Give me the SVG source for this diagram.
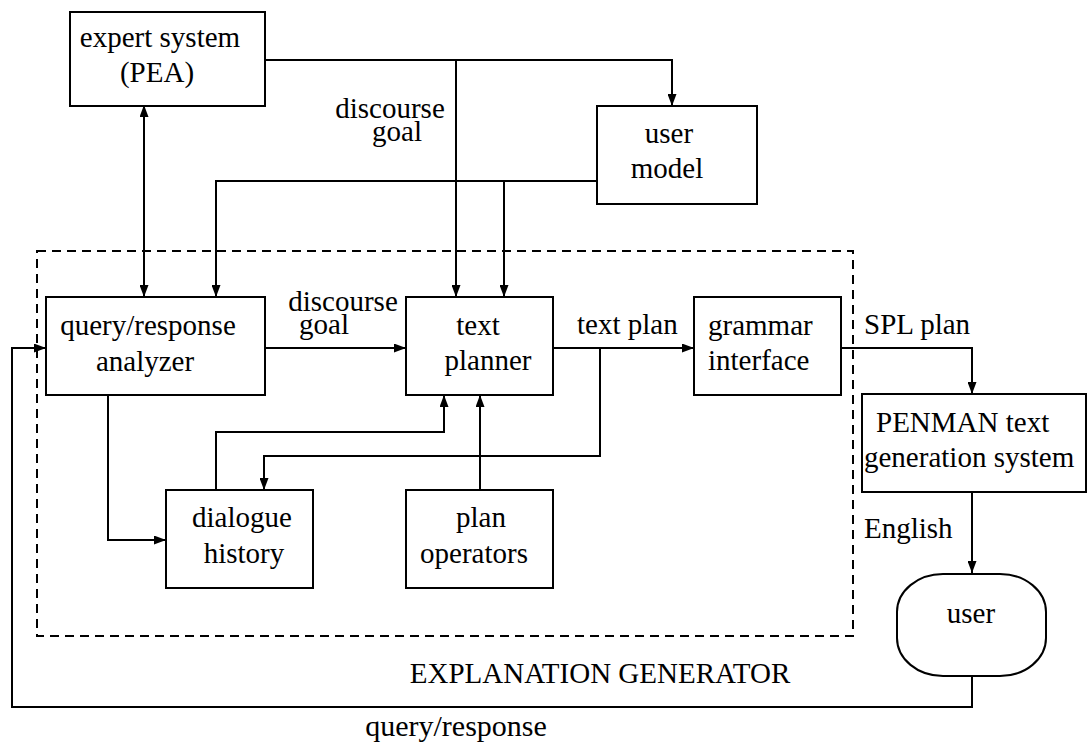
<svg xmlns="http://www.w3.org/2000/svg" width="1088" height="750" viewBox="0 0 1088 750">
  <style>
    .box { fill: #fff; stroke: #000; stroke-width: 2; }
    .frame { fill: none; stroke: #000; stroke-width: 2; stroke-dasharray: 9 6; }
    .wire { fill: none; stroke: #000; stroke-width: 2; marker-end: url(#arrow); }
    text { font-family: "Liberation Serif", "Times New Roman", serif; font-size: 29px; fill: #000; }
    .c { text-anchor: middle; }
  </style>
  <defs>
    <marker id="arrow" markerUnits="userSpaceOnUse" markerWidth="13" markerHeight="9" refX="12" refY="4.5" orient="auto-start-reverse">
      <path d="M0,0 L12,4.5 L0,9 z" fill="#000"/>
    </marker>
  </defs>

  <rect width="1088" height="750" fill="#fff"/>

  <!-- explanation generator boundary -->
  <g id="explanation-generator">
    <rect class="frame" x="37" y="251" width="816" height="385"/>
    <text class="c" x="600" y="683">EXPLANATION GENERATOR</text>
  </g>

  <!-- connectors -->
  <g id="connectors">
    <path class="wire" d="M265,60 H672 V106"/>
    <path class="wire" d="M456,60 V297"/>
    <path class="wire" d="M144,105 V297" marker-start="url(#arrow)"/>
    <path class="wire" d="M597,181 H216 V297"/>
    <path class="wire" d="M504,181 V297"/>
    <path class="wire" d="M265,348 H406"/>
    <path class="wire" d="M553,348 H694"/>
    <path class="wire" d="M600,348 V456 H264 V490"/>
    <path class="wire" d="M108,395 V540 H166"/>
    <path class="wire" d="M216,490 V432 H444 V395"/>
    <path class="wire" d="M480,490 V395"/>
    <path class="wire" d="M841,348 H972 V394"/>
    <path class="wire" d="M972,492 V573"/>
    <path class="wire" d="M972,676 V707 H12 V348 H46"/>
    <text x="390" y="118" class="c">discourse</text>
    <text x="397" y="141" class="c">goal</text>
    <text x="343" y="311" class="c">discourse</text>
    <text x="324" y="334" class="c">goal</text>
    <text x="577" y="334">text plan</text>
    <text x="864" y="334">SPL plan</text>
    <text x="864" y="538">English</text>
    <text x="456" y="736" class="c" style="font-size:30px">query/response</text>
  </g>

  <g id="expert-system">
    <rect class="box" x="70" y="12" width="195" height="94"/>
    <text class="c" x="160" y="47">expert system</text>
    <text class="c" x="157" y="82">(PEA)</text>
  </g>

  <g id="user-model">
    <rect class="box" x="597" y="106" width="160" height="98"/>
    <text class="c" x="669" y="143">user</text>
    <text class="c" x="667" y="178">model</text>
  </g>

  <g id="query-response-analyzer">
    <rect class="box" x="46" y="297" width="219" height="98"/>
    <text class="c" x="148" y="335">query/response</text>
    <text class="c" x="145" y="371">analyzer</text>
  </g>

  <g id="text-planner">
    <rect class="box" x="406" y="297" width="147" height="98"/>
    <text class="c" x="478" y="335">text</text>
    <text class="c" x="488" y="370">planner</text>
  </g>

  <g id="grammar-interface">
    <rect class="box" x="694" y="297" width="147" height="98"/>
    <text x="708" y="335">grammar</text>
    <text x="708" y="370">interface</text>
  </g>

  <g id="penman">
    <rect class="box" x="862" y="394" width="224" height="98"/>
    <text x="876" y="432">PENMAN text</text>
    <text x="864" y="467">generation system</text>
  </g>

  <g id="dialogue-history">
    <rect class="box" x="166" y="490" width="147" height="98"/>
    <text class="c" x="242" y="527">dialogue</text>
    <text class="c" x="244" y="563">history</text>
  </g>

  <g id="plan-operators">
    <rect class="box" x="406" y="490" width="147" height="98"/>
    <text class="c" x="481" y="527">plan</text>
    <text class="c" x="474" y="563">operators</text>
  </g>

  <g id="user">
    <rect class="box" x="897" y="574" width="149" height="102" rx="46" ry="38"/>
    <text class="c" x="971" y="623">user</text>
  </g>
</svg>
